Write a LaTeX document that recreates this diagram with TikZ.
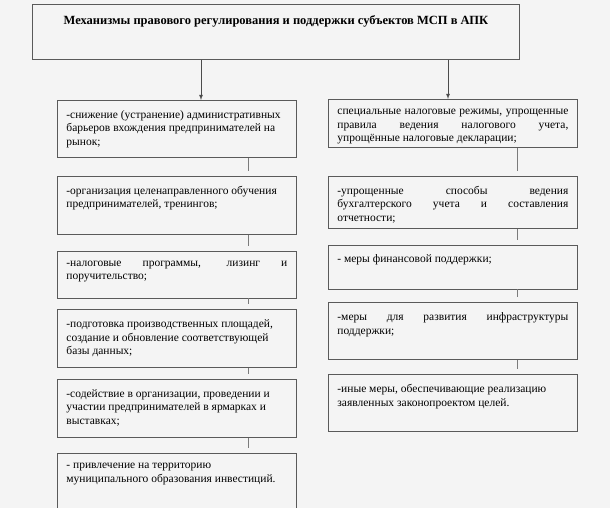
\documentclass[tikz,border=0pt]{standalone}
\usepackage{fontspec}
\setmainfont{Liberation Serif}
\usepackage{tikz}
\usetikzlibrary{shapes,arrows,positioning}
\definecolor{paper}{HTML}{F4F4F4}
\definecolor{boxline}{HTML}{5A5A5A}
\tikzstyle{cell} = [draw=boxline, line width=0.8pt, inner xsep=9pt, inner ysep=0pt, font=\fontsize{11.5}{13.5}\selectfont]
\tikzstyle{stub} = [draw=boxline!80, line width=0.8pt, shorten >=5pt]
\tikzstyle{feed} = [draw=black!70, line width=0.8pt, ->]
\tikzset{pane/.style 2 args={execute at begin node={\begin{minipage}[t][#1][t]{#2}\vspace*{10pt}},
    execute at end node={\end{minipage}}}}

\begin{document}
\begin{tikzpicture}[x=1pt, y=-1pt, >=latex, node distance=16pt]
    \fill [paper] (0,0) rectangle (610,508);
    \useasboundingbox (0,0) rectangle (610,508);
    % Define the nodes
    \node [cell, pane={55pt}{469pt}, anchor=north west] (main) at (32,4)
        {\vspace*{1pt}\centering\fontsize{12.5}{14}\selectfont\bfseries Механизмы правового регулирования и поддержки субъектов МСП в АПК\par};
    \node [cell, pane={57pt}{221pt}, anchor=north west] (l1) at (57,100)
        {-снижение (устранение) административных\\ барьеров вхождения предпринимателей на\\ рынок;};
    \node [cell, pane={58pt}{221pt}, below=18pt of l1] (l2)
        {-организация целенаправленного обучения\\ предпринимателей, тренингов;};
    \node [cell, pane={47pt}{221pt}, below=16pt of l2] (l3)
        {-налоговые программы, лизинг и\linebreak поручительство;};
    \node [cell, pane={58pt}{221pt}, below=11pt of l3] (l4)
        {-подготовка производственных площадей,\\ создание и обновление соответствующей\\ базы данных;};
    \node [cell, pane={58pt}{221pt}, below=11pt of l4] (l5)
        {-содействие в организации, проведении и\\ участии предпринимателей в ярмарках и\\ выставках;};
    \node [cell, pane={58pt}{221pt}, below=15pt of l5] (l6)
        {- привлечение на территорию\\ муниципального образования инвестиций.};
    \node [cell, pane={48pt}{231pt}, anchor=north west] (r1) at (328,99)
        {специальные налоговые режимы, упрощенные\linebreak правила ведения налогового учета,\linebreak упрощённые налоговые декларации;};
    \node [cell, pane={52pt}{231pt}, below=28pt of r1] (r2)
        {-упрощенные способы ведения\linebreak бухгалтерского учета и составления\linebreak отчетности;};
    \node [cell, pane={44pt}{231pt}, below=16pt of r2] (r3)
        {- меры финансовой поддержки;};
    \node [cell, pane={57pt}{231pt}, below=13pt of r3] (r4)
        {-меры для развития инфраструктуры\linebreak поддержки;};
    \node [cell, pane={57pt}{231pt}, below=14pt of r4] (r5)
        {-иные меры, обеспечивающие реализацию\\ заявленных законопроектом целей.};
    \coordinate (la) at (201,0);
    \coordinate (ra) at (448,0);
    \coordinate (ls) at (248,0);
    \coordinate (rs) at (517,0);
    % Connect the nodes
    \draw [feed] (main.south -| la) -- (l1.north -| la);
    \draw [feed] (main.south -| ra) -- (r1.north -| ra);
    \foreach \a/\b in {l1/l2, l2/l3, l3/l4, l4/l5, l5/l6}
        \draw [stub] (\a.south -| ls) -- (\b.north -| ls);
    \foreach \a/\b in {r1/r2, r2/r3, r3/r4, r4/r5}
        \draw [stub] (\a.south -| rs) -- (\b.north -| rs);
\end{tikzpicture}
\end{document}
